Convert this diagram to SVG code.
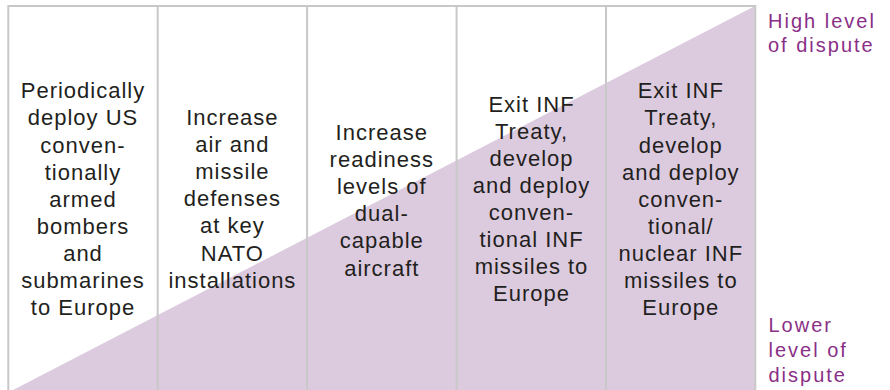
<svg xmlns="http://www.w3.org/2000/svg" width="890" height="390" viewBox="0 0 890 390">
<style>
.t{font-family:"Liberation Sans",Arial,sans-serif;font-size:22px;fill:#231f20;text-anchor:middle;letter-spacing:1px}
.p{font-family:"Liberation Sans",Arial,sans-serif;font-size:20px;fill:#8a2f87;letter-spacing:2px}
.ln{stroke:#c8c8c8;stroke-width:2;fill:none}
</style>
<rect x="0" y="0" width="890" height="390" fill="#ffffff"/>
<polygon id="dispute-gradient" points="8,392.6 755,6 755,392" fill="#dccbdf"/>
<g id="grid">
<rect class="ln" x="8.3" y="6" width="747" height="390"/>
<line class="ln" x1="157.7" y1="6" x2="157.7" y2="392"/>
<line class="ln" x1="307.1" y1="6" x2="307.1" y2="392"/>
<line class="ln" x1="456.6" y1="6" x2="456.6" y2="392"/>
<line class="ln" x1="606" y1="6" x2="606" y2="392"/>
</g>
<g id="col1">
<text class="t" y="98.3"><tspan x="83">Periodically</tspan><tspan x="83" dy="27.1">deploy US</tspan><tspan x="83" dy="27.1">conven-</tspan><tspan x="83" dy="27.1">tionally</tspan><tspan x="83" dy="27.1">armed</tspan><tspan x="83" dy="27.1">bombers</tspan><tspan x="83" dy="27.1">and</tspan><tspan x="83" dy="27.1">submarines</tspan><tspan x="83" dy="27.1">to Europe</tspan></text>
</g>
<g id="col2">
<text class="t" y="125"><tspan x="232.4">Increase</tspan><tspan x="232.4" dy="27.1">air and</tspan><tspan x="232.4" dy="27.1">missile</tspan><tspan x="232.4" dy="27.1">defenses</tspan><tspan x="232.4" dy="27.1">at key</tspan><tspan x="232.4" dy="27.1">NATO</tspan><tspan x="232.4" dy="27.1">installations</tspan></text>
</g>
<g id="col3">
<text class="t" y="140"><tspan x="381.8">Increase</tspan><tspan x="381.8" dy="27.1">readiness</tspan><tspan x="381.8" dy="27.1">levels of</tspan><tspan x="381.8" dy="27.1">dual-</tspan><tspan x="381.8" dy="27.1">capable</tspan><tspan x="381.8" dy="27.1">aircraft</tspan></text>
</g>
<g id="col4">
<text class="t" y="111.7"><tspan x="531.5">Exit INF</tspan><tspan x="531.5" dy="27.1">Treaty,</tspan><tspan x="531.5" dy="27.1">develop</tspan><tspan x="531.5" dy="27.1">and deploy</tspan><tspan x="531.5" dy="27.1">conven-</tspan><tspan x="531.5" dy="27.1">tional INF</tspan><tspan x="531.5" dy="27.1">missiles to</tspan><tspan x="531.5" dy="27.1">Europe</tspan></text>
</g>
<g id="col5">
<text class="t" y="98.3"><tspan x="680.8">Exit INF</tspan><tspan x="680.8" dy="27.1">Treaty,</tspan><tspan x="680.8" dy="27.1">develop</tspan><tspan x="680.8" dy="27.1">and deploy</tspan><tspan x="680.8" dy="27.1">conven-</tspan><tspan x="680.8" dy="27.1">tional/</tspan><tspan x="680.8" dy="27.1">nuclear INF</tspan><tspan x="680.8" dy="27.1">missiles to</tspan><tspan x="680.8" dy="27.1">Europe</tspan></text>
</g>
<g id="label-high">
<text class="p" y="27.7"><tspan x="768">High level</tspan><tspan x="768" dy="24.5">of dispute</tspan></text>
</g>
<g id="label-low">
<text class="p" y="331.7"><tspan x="768.5">Lower</tspan><tspan x="768.5" dy="25.2">level of</tspan><tspan x="768.5" dy="25.2">dispute</tspan></text>
</g>
</svg>
